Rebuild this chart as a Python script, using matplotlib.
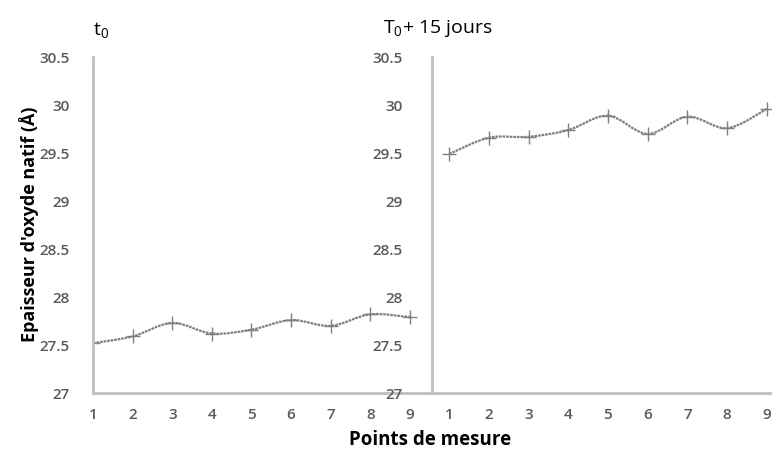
import numpy as np
import matplotlib
matplotlib.use('Agg')
import matplotlib.pyplot as plt
from matplotlib.path import Path
from matplotlib.patches import PathPatch

plt.rcParams['font.family'] = ['Open Sans', 'DejaVu Sans']

points = [1, 2, 3, 4, 5, 6, 7, 8, 9]
ep_t0 = [27.52, 27.59, 27.73, 27.62, 27.66, 27.76, 27.70, 27.82, 27.79]
ep_t15 = [29.49, 29.66, 29.67, 29.74, 29.89, 29.70, 29.88, 29.76, 29.96]
yticks = [27, 27.5, 28, 28.5, 29, 29.5, 30, 30.5]
ytick_labels = ['27', '27.5', '28', '28.5', '29', '29.5', '30', '30.5']

line_grey = "#7f7f7f"
axis_grey = "#bfbfbf"
text_grey = "#595959"


def smooth_path(x, y):
    # excel-like smoothed line : catmull-rom turned into bezier segments
    x = np.asarray(x, float)
    y = np.asarray(y, float)
    verts = [(x[0], y[0])]
    codes = [Path.MOVETO]
    n = len(x)
    for i in range(n - 1):
        i0 = max(i - 1, 0)
        i3 = min(i + 2, n - 1)
        c1 = (x[i] + (x[i + 1] - x[i0]) / 6.0, y[i] + (y[i + 1] - y[i0]) / 6.0)
        c2 = (x[i + 1] - (x[i3] - x[i]) / 6.0, y[i + 1] - (y[i3] - y[i]) / 6.0)
        verts += [c1, c2, (x[i + 1], y[i + 1])]
        codes += [Path.CURVE4] * 3
    return Path(verts, codes)


fig = plt.figure(figsize=(7.72, 4.57), dpi=100)
ax1 = fig.add_axes([0.1205, 0.140, 0.4391, 0.735])
ax2 = fig.add_axes([0.5596, 0.140, 0.4404, 0.735])

for ax, vals, xlim, pad in [(ax1, ep_t0, (1, 9.56), 17), (ax2, ep_t15, (0.57, 9.13), 21)]:
    ax.add_patch(PathPatch(smooth_path(points, vals), facecolor='none',
                           edgecolor=line_grey, lw=1.6, ls=(0, (1.2, 0.4))))
    ax.plot(points, vals, ls='none', marker='+', ms=10, mew=1.0, color=line_grey)
    ax.set_xlim(*xlim)
    ax.set_ylim(27, 30.5)
    ax.set_xticks(points)
    ax.set_yticks(yticks)
    ax.set_yticklabels(ytick_labels)
    for s in ['top', 'right']:
        ax.spines[s].set_visible(False)
    for s in ['left', 'bottom']:
        ax.spines[s].set_color(axis_grey)
        ax.spines[s].set_linewidth(2)
    ax.tick_params(axis='both', length=0, labelsize=11, colors=text_grey)
    ax.tick_params(axis='y', pad=pad)
    ax.tick_params(axis='x', pad=11)
    ax.patch.set_alpha(0)
    for lab in ax.get_xticklabels() + ax.get_yticklabels():
        lab.set_fontweight('semibold')

fig.text(0.1205, 0.935, r'$\mathregular{t_0}$', fontsize=14, ha='left', va='center')
fig.text(0.496, 0.938, r'$\mathregular{T_0}$+ 15 jours', fontsize=14, ha='left', va='center')
fig.text(0.037, 0.51, "Epaisseur d'oxyde natif (Å)", rotation=90, fontsize=13,
         fontweight='bold', ha='center', va='center')
fig.text(0.557, 0.038, "Points de mesure", fontsize=13.5, fontweight='bold',
         ha='center', va='center')

fig.savefig('out.png', dpi=100)
